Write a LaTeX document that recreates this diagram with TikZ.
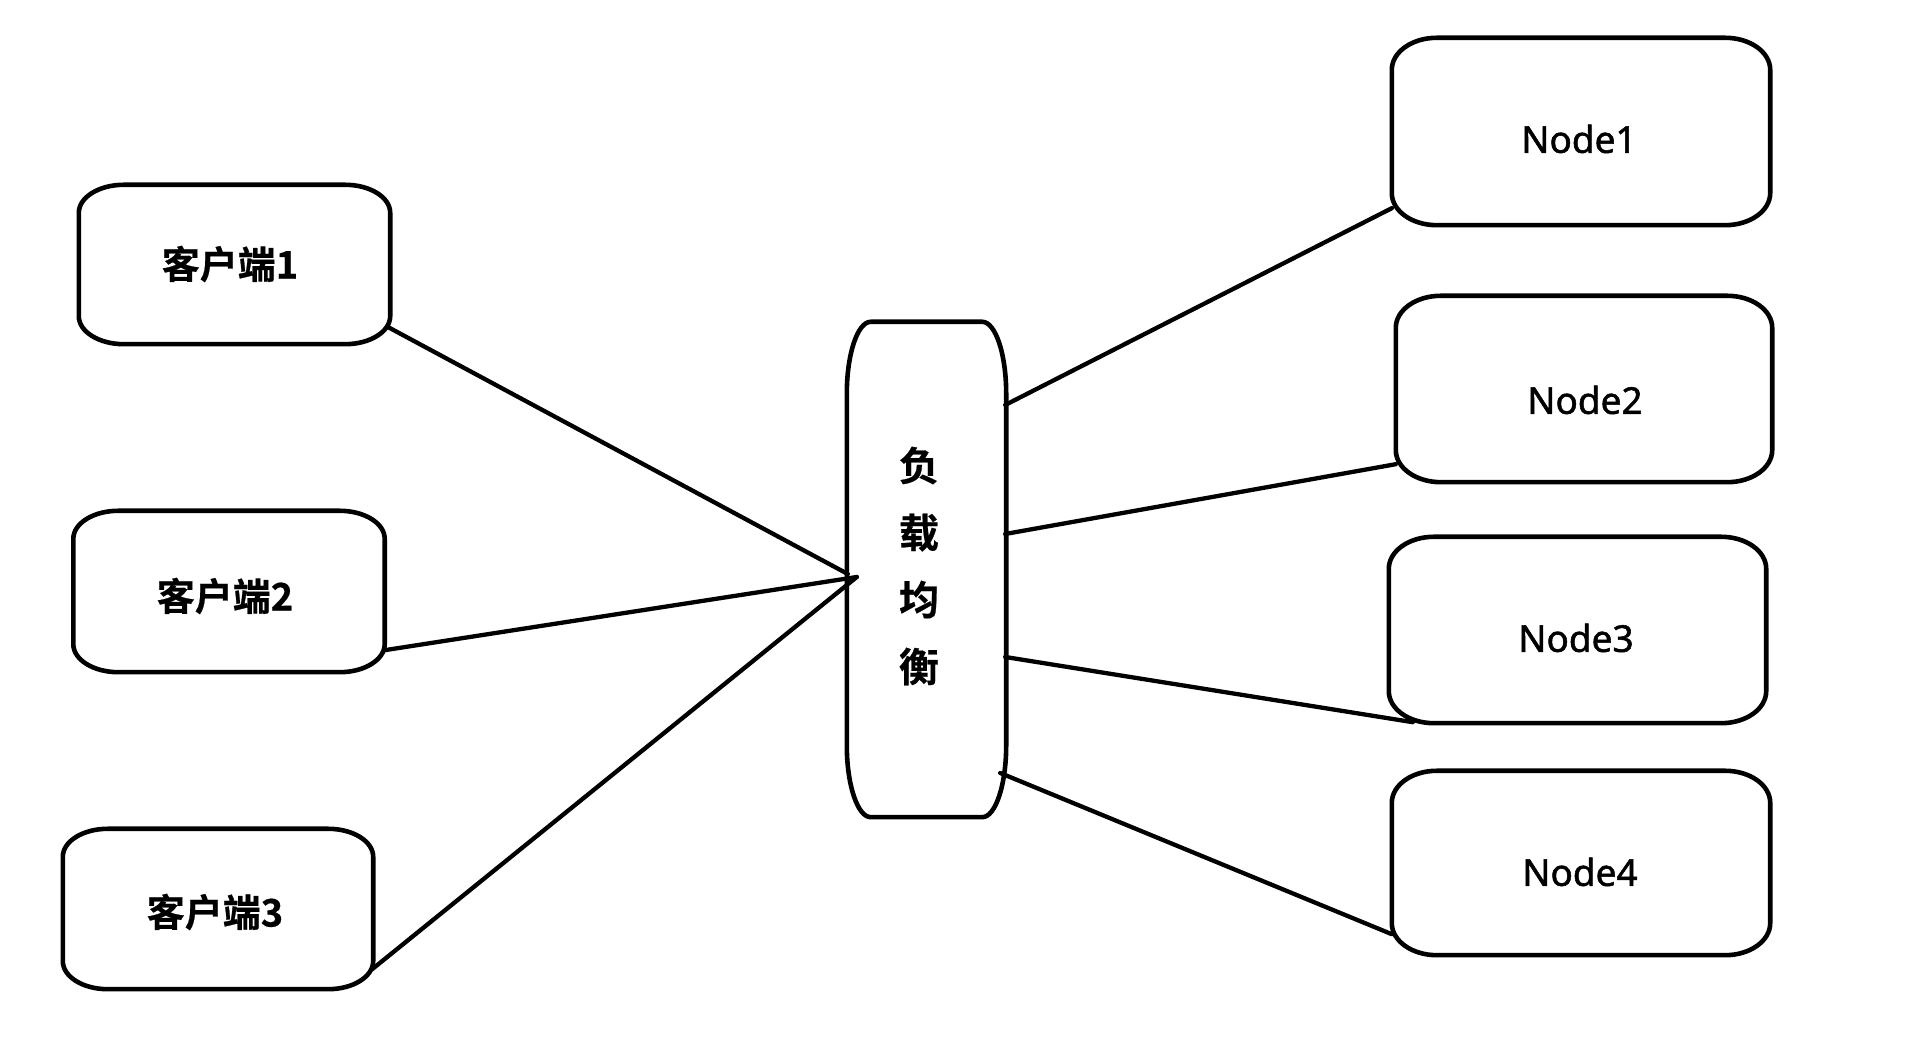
\documentclass[tikz,border=0pt]{standalone}
\usepackage{fontspec}
\usetikzlibrary{calc}
\newfontfamily\cjkbold{Noto Sans CJK SC Bold}[FakeBold=0.6]
\newfontfamily\latinsans{Noto Sans}[FakeBold=1.4]
\tikzset{
  holder/.style={draw=none, rectangle, inner sep=0pt},
  clientbox/.style={holder, minimum width=311, minimum height=160},
  serverbox/.style={holder, minimum width=377, minimum height=186},
  lbbox/.style={holder, minimum width=159, minimum height=495},
  clienttext/.style={font=\cjkbold\fontsize{38}{44}\selectfont},
  servertext/.style={font=\latinsans\bfseries\fontsize{37}{42}\selectfont},
  lbtext/.style={align=center, font=\cjkbold\fontsize{40}{67}\selectfont},
  boxline/.style={draw=black, line width=4.6pt},
  link/.style={draw=black, line width=4.3pt, line cap=round}
}
\newcommand\eboxoutline[3]{%
  \draw[boxline] ($(#1.north west)+(#2,0)$) -- ($(#1.north east)+(-#2,0)$)
    arc[start angle=90,end angle=0,x radius=#2,y radius=#3]
    -- ($(#1.south east)+(0,#3)$)
    arc[start angle=0,end angle=-90,x radius=#2,y radius=#3]
    -- ($(#1.south west)+(#2,0)$)
    arc[start angle=270,end angle=180,x radius=#2,y radius=#3]
    -- ($(#1.north west)+(0,-#3)$)
    arc[start angle=180,end angle=90,x radius=#2,y radius=#3] -- cycle;}
\begin{document}
\begin{tikzpicture}[x=1pt,y=1pt]
\useasboundingbox[fill=white] (0,0) rectangle (1915,1043);
% clients
\node[clientbox, minimum height=159] (c1) at (234.5,778.5) {};
\node[clienttext] (c1t) at (230,779) {客户端1};
\node[clientbox, minimum height=161] (c2) at (229,451.5) {};
\node[clienttext] (c2t) at (225,447) {客户端2};
\node[clientbox, minimum width=310] (c3) at (218,134) {};
\node[clienttext] (c3t) at (215,131) {客户端3};
% load balancer
\node[lbbox] (lb) at (926.5,473.5) {};
\node[lbtext] (lbt) at (919,477) {负\\载\\均\\衡};
% servers
\node[serverbox, minimum width=378, minimum height=187] (n1) at (1581,911.5) {};
\node[servertext] (n1t) at (1579,904) {Node1};
\node[serverbox, minimum width=376] (n2) at (1584,654) {};
\node[servertext] (n2t) at (1585,643) {Node2};
\node[serverbox] (n3) at (1577.5,413) {};
\node[servertext] (n3t) at (1576,405) {Node3};
\node[serverbox, minimum width=378, minimum height=184] (n4) at (1581,180) {};
\node[servertext] (n4t) at (1580,171) {Node4};
% outlines
\eboxoutline{c1}{45}{28}
\eboxoutline{c2}{45}{28}
\eboxoutline{c3}{45}{28}
\eboxoutline{lb}{24}{72}
\eboxoutline{n1}{45}{32}
\eboxoutline{n2}{45}{32}
\eboxoutline{n3}{45}{32}
\eboxoutline{n4}{45}{32}
% connection points
\coordinate (hubA) at ($(lb.west)+(1,-4.5)$);
\coordinate (hubB) at ($(lb.west)+(10,-7.5)$);
\coordinate (c1p) at ($(c1.south east)+(-2,17)$);
\coordinate (c2p) at ($(c2.south east)+(0,22)$);
\coordinate (c3p) at ($(c3.south east)+(-1,20)$);
\coordinate (lb1) at ($(lb.east)+(-1,164.5)$);
\coordinate (lb2) at ($(lb.east)+(-1,35.5)$);
\coordinate (lb3) at ($(lb.east)+(-1,-87.5)$);
\coordinate (lb4) at ($(lb.east)+(-6,-203.5)$);
\coordinate (n1p) at ($(n1.south west)+(0,17)$);
\coordinate (n2p) at ($(n2.south west)+(0,18)$);
\coordinate (n3p) at ($(n3.south west)+(24,1)$);
\coordinate (n4p) at ($(n4.south west)+(0,21)$);
% links
\draw[link] (c1p) -- (hubA);
\draw[link] (c2p) -- (hubB);
\draw[link] (c3p) -- (hubB);
\draw[link] (lb1) -- (n1p);
\draw[link] (lb2) -- (n2p);
\draw[link] (lb3) -- (n3p);
\draw[link] (lb4) -- (n4p);
\end{tikzpicture}
\end{document}
